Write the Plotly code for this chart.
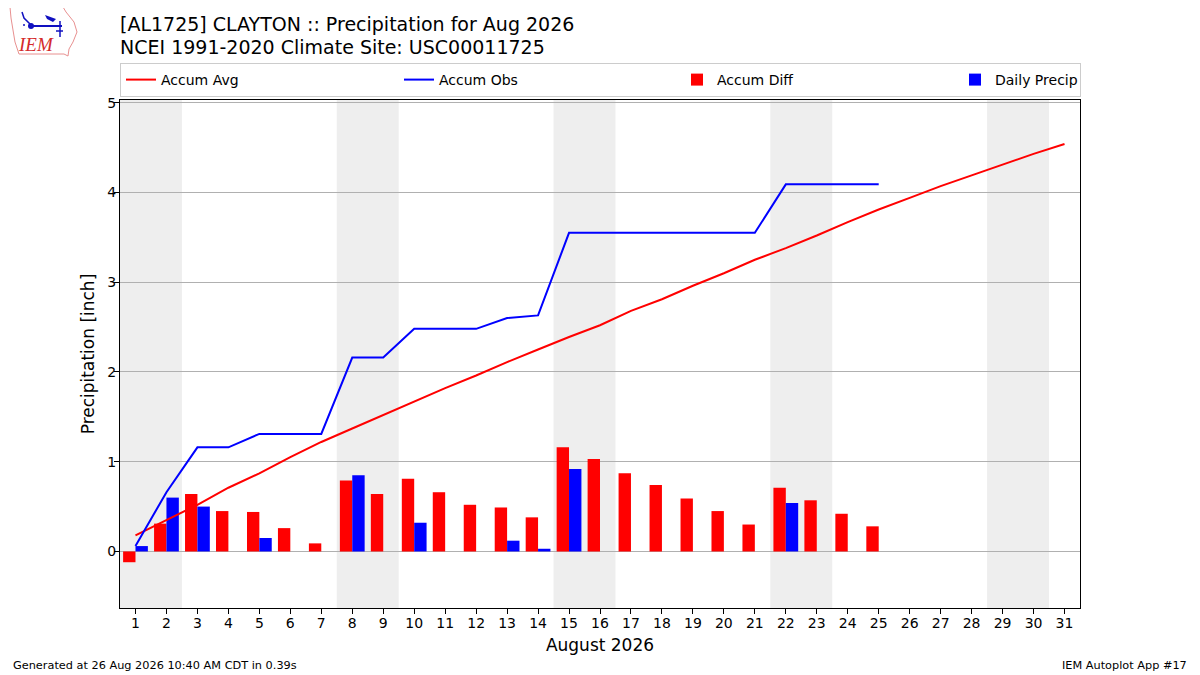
import plotly.graph_objects as go

# ---- data ----
days = list(range(1, 32))
accum_avg = [0.18, 0.35, 0.52, 0.71, 0.87, 1.05, 1.22, 1.37, 1.52, 1.67, 1.82, 1.96,
             2.11, 2.25, 2.39, 2.52, 2.68, 2.81, 2.96, 3.10, 3.25, 3.38, 3.52, 3.67,
             3.81, 3.94, 4.07, 4.19, 4.31, 4.43, 4.54]
obs_days = list(range(1, 26))
accum_obs = [0.06, 0.66, 1.16, 1.16, 1.31, 1.31, 1.31, 2.16, 2.16, 2.48, 2.48, 2.48,
             2.60, 2.63, 3.55, 3.55, 3.55, 3.55, 3.55, 3.55, 3.55, 4.09, 4.09, 4.09, 4.09]
accum_diff = [-0.12, 0.31, 0.64, 0.45, 0.44, 0.26, 0.09, 0.79, 0.64, 0.81, 0.66, 0.52,
              0.49, 0.38, 1.16, 1.03, 0.87, 0.74, 0.59, 0.45, 0.30, 0.71, 0.57, 0.42, 0.28]
daily_precip = [0.06, 0.60, 0.50, 0.00, 0.15, 0.00, 0.00, 0.85, 0.00, 0.32, 0.00, 0.00,
                0.12, 0.03, 0.92, 0.00, 0.00, 0.00, 0.00, 0.00, 0.00, 0.54, 0.00, 0.00, 0.00]
weekend_starts = [1, 8, 15, 22, 29]   # Saturdays of Aug 2026
y_ticks = [0, 1, 2, 3, 4, 5]

title1 = "[AL1725] CLAYTON :: Precipitation for Aug 2026"
title2 = "NCEI 1991-2020 Climate Site: USC00011725"
footer_left = "Generated at 26 Aug 2026 10:40 AM CDT in 0.39s"
footer_right = "IEM Autoplot App #17"

FONT = "DejaVu Sans"
OFF = 8                      # page body margin offset
FW, FH = 1200 - OFF, 675 - OFF
ML, MR, MT, MB = 112, 120, 92, 67
PW, PH = FW - ML - MR, FH - MT - MB


def px(sx, sy):
    """screen pixel position -> paper coords (for decorations only)"""
    fx, fy = sx - OFF, sy - OFF
    return (fx - ML) / PW, (FH - MB - fy) / PH


fig = go.Figure()

fig.add_trace(go.Bar(x=obs_days, y=accum_diff, width=0.4, offset=-0.4,
                     marker=dict(color="#ff0000", line=dict(width=0)),
                     name="Accum Diff", legendrank=3, legendwidth=233))
fig.add_trace(go.Bar(x=obs_days, y=daily_precip, width=0.4, offset=0.0,
                     marker=dict(color="#0000ff", line=dict(width=0)),
                     name="Daily Precip", legendrank=4, legendwidth=80))
fig.add_trace(go.Scatter(x=days, y=accum_avg, mode="lines",
                         line=dict(color="#ff0000", width=2),
                         name="Accum Avg", legendrank=1, legendwidth=233))
fig.add_trace(go.Scatter(x=obs_days, y=accum_obs, mode="lines",
                         line=dict(color="#0000ff", width=2),
                         name="Accum Obs", legendrank=2, legendwidth=233))

shapes = []
for d in weekend_starts:
    shapes.append(dict(type="rect", xref="x", yref="paper", x0=d - 0.5, x1=d + 1.5,
                       y0=0, y1=1, fillcolor="#eeeeee", line=dict(width=0),
                       layer="below"))

# --- simple IEM logo approximation ---
def ppath(pts, close=True):
    s = "M " + " L ".join(f"{px(a, b)[0]:.5f},{px(a, b)[1]:.5f}" for a, b in pts)
    return s + (" Z" if close else "")


outline = [(10, 7), (63, 7), (66, 12), (74, 22), (77, 32), (73, 42), (69, 49),
           (68, 56), (64, 54), (19, 54), (15, 42), (13, 30), (11, 18)]
shapes.append(dict(type="path", xref="paper", yref="paper", path=ppath(outline),
                   line=dict(color="#e89090", width=1), fillcolor="rgba(0,0,0,0)"))
shapes.append(dict(type="path", xref="paper", yref="paper",
                   path=ppath([(29, 26), (62, 26)], False),
                   line=dict(color="#1010c0", width=2)))
x0, y0 = px(28, 23); x1, y1 = px(34, 29)
shapes.append(dict(type="circle", xref="paper", yref="paper", x0=x0, y0=y0, x1=x1, y1=y1,
                   fillcolor="#1010c0", line=dict(width=0)))
shapes.append(dict(type="path", xref="paper", yref="paper",
                   path=ppath([(22, 12), (24, 18), (30, 24)], False),
                   line=dict(color="#1010c0", width=1.5)))
shapes.append(dict(type="path", xref="paper", yref="paper",
                   path=ppath([(45, 15), (56, 19), (53, 22), (47, 19)]),
                   fillcolor="#1010c0", line=dict(width=0)))
shapes.append(dict(type="path", xref="paper", yref="paper",
                   path=ppath([(60, 21), (60, 37)], False),
                   line=dict(color="#1010c0", width=1.5)))
shapes.append(dict(type="path", xref="paper", yref="paper",
                   path=ppath([(56, 31), (63, 31)], False),
                   line=dict(color="#1010c0", width=1.5)))
shapes.append(dict(type="path", xref="paper", yref="paper",
                   path=ppath([(23, 25), (25, 25)], False),
                   line=dict(color="#1010c0", width=1.5)))

annotations = []


def add_text(text, sx, sy, size, anchor="left", family=FONT, color="black"):
    ax, ay = px(sx, sy)
    annotations.append(dict(text=text, xref="paper", yref="paper", x=ax, y=ay,
                            xanchor=anchor, yanchor="middle", showarrow=False,
                            font=dict(family=family, size=size, color=color)))


add_text(title1, 118, 24, 19)
add_text(title2, 118, 47, 19)
add_text(footer_left, 11, 665, 11.3)
add_text(footer_right, 1189, 665, 11.3, anchor="right")
add_text("<i>IEM</i>", 36, 45, 19, anchor="center", family="Liberation Serif",
         color="#d42a2a")

lx, ly = px(120, 80)
fig.update_layout(
    width=FW, height=FH,
    margin=dict(l=ML, r=MR, t=MT, b=MB),
    paper_bgcolor="white", plot_bgcolor="white",
    barmode="overlay",
    font=dict(family=FONT, size=14, color="black"),
    shapes=shapes, annotations=annotations,
    legend=dict(orientation="h", x=lx, y=ly, xanchor="left", yanchor="middle",
                bgcolor="white", bordercolor="#cccccc", borderwidth=1,
                font=dict(family=FONT, size=14), traceorder="normal"),
    showlegend=True,
)
fig.update_xaxes(range=[0.5, 31.5], tickmode="array", tickvals=days,
                 ticktext=[str(d) for d in days],
                 ticks="outside", ticklen=5, tickcolor="black",
                 ticklabelstandoff=-3,
                 showline=True, linecolor="black", linewidth=1, mirror=True,
                 showgrid=False, zeroline=False,
                 title=dict(text="August 2026", font=dict(family=FONT, size=17),
                            standoff=9),
                 tickfont=dict(family=FONT, size=14))
fig.update_yaxes(range=[-0.63, 5.03], tickmode="array", tickvals=y_ticks,
                 ticks="outside", ticklen=5, tickcolor="black",
                 ticklabelstandoff=-5,
                 showline=True, linecolor="black", linewidth=1, mirror=True,
                 showgrid=True, gridcolor="#b0b0b0", gridwidth=1,
                 zeroline=True, zerolinecolor="#b0b0b0", zerolinewidth=1,
                 title=dict(text="Precipitation [inch]", font=dict(family=FONT, size=17),
                            standoff=8),
                 tickfont=dict(family=FONT, size=14))

fig.write_html("out.html")
